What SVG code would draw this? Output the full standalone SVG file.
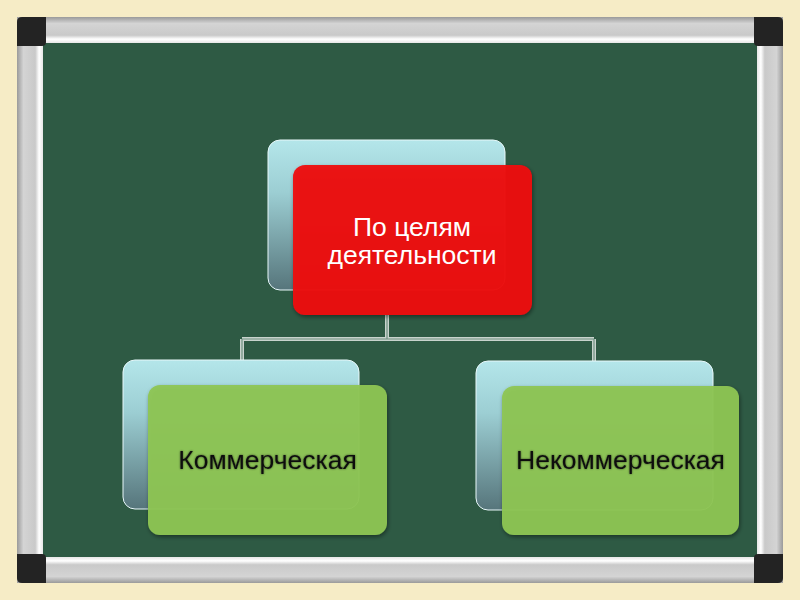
<svg xmlns="http://www.w3.org/2000/svg" width="800" height="600" viewBox="0 0 800 600">
<defs>
  <linearGradient id="blueGrad" x1="0" y1="0" x2="0" y2="1">
    <stop offset="0" stop-color="#b4e6ea"/>
    <stop offset="0.35" stop-color="#9cced3"/>
    <stop offset="1" stop-color="#56757b"/>
  </linearGradient>
  <linearGradient id="barH" x1="0" y1="0" x2="0" y2="1">
    <stop offset="0" stop-color="#9a9a9a"/>
    <stop offset="0.25" stop-color="#d4d4d4"/>
    <stop offset="0.7" stop-color="#c9c9c9"/>
    <stop offset="0.85" stop-color="#ffffff"/>
    <stop offset="1" stop-color="#e6e6e6"/>
  </linearGradient>
  <linearGradient id="barHb" x1="0" y1="1" x2="0" y2="0">
    <stop offset="0" stop-color="#9a9a9a"/>
    <stop offset="0.25" stop-color="#d4d4d4"/>
    <stop offset="0.7" stop-color="#c9c9c9"/>
    <stop offset="0.85" stop-color="#ffffff"/>
    <stop offset="1" stop-color="#e6e6e6"/>
  </linearGradient>
  <linearGradient id="barV" x1="0" y1="0" x2="1" y2="0">
    <stop offset="0" stop-color="#9a9a9a"/>
    <stop offset="0.25" stop-color="#d4d4d4"/>
    <stop offset="0.7" stop-color="#c9c9c9"/>
    <stop offset="0.85" stop-color="#ffffff"/>
    <stop offset="1" stop-color="#e6e6e6"/>
  </linearGradient>
  <linearGradient id="barVr" x1="1" y1="0" x2="0" y2="0">
    <stop offset="0" stop-color="#9a9a9a"/>
    <stop offset="0.25" stop-color="#d4d4d4"/>
    <stop offset="0.7" stop-color="#c9c9c9"/>
    <stop offset="0.85" stop-color="#ffffff"/>
    <stop offset="1" stop-color="#e6e6e6"/>
  </linearGradient>
  <filter id="shadow" x="-10%" y="-10%" width="130%" height="130%">
    <feGaussianBlur in="SourceAlpha" stdDeviation="2"/>
    <feOffset dx="1" dy="2" result="b"/>
    <feComponentTransfer><feFuncA type="linear" slope="0.45"/></feComponentTransfer>
    <feMerge><feMergeNode/><feMergeNode in="SourceGraphic"/></feMerge>
  </filter>
  <filter id="glowDark" x="-5%" y="-20%" width="110%" height="140%">
    <feGaussianBlur in="SourceAlpha" stdDeviation="1"/>
    <feComponentTransfer><feFuncA type="linear" slope="0.6"/></feComponentTransfer>
    <feMerge><feMergeNode/><feMergeNode in="SourceGraphic"/></feMerge>
  </filter>
  <style>
    .back { fill: url(#blueGrad); stroke: #e8f8fa; stroke-width: 1; }
    .red { fill: #ee0a10; fill-opacity: 0.95; filter: url(#shadow); }
    .green { fill: #8ec653; fill-opacity: 0.94; filter: url(#shadow); }
    .tw { font-family: "Liberation Sans", Arial, sans-serif; font-size: 26.5px; fill: #ffffff; text-anchor: middle; }
    .tb { font-family: "Liberation Sans", Arial, sans-serif; font-size: 26.5px; fill: #111111; text-anchor: middle; filter: url(#glowDark); }
    .conn-outer { fill: none; stroke: #c8d3cd; stroke-width: 4; }
    .conn-inner { fill: none; stroke: #6f9080; stroke-width: 1.2; }
    .corner { fill: #232323; }
  </style>
</defs>

<!-- background -->
<rect x="0" y="0" width="800" height="600" fill="#f6ecc6"/>

<!-- board -->
<g id="board">
  <rect x="40" y="40" width="720" height="520" fill="#2e5a44"/>
  <rect x="17" y="17" width="766" height="26" fill="url(#barH)"/>
  <rect x="17" y="557" width="766" height="26" fill="url(#barHb)"/>
  <rect x="17" y="17" width="26" height="566" fill="url(#barV)"/>
  <rect x="757" y="17" width="26" height="566" fill="url(#barVr)"/>
  <path class="corner" d="M22,17 H46 V42 Q46,46 42,46 H17 V22 Q17,17 22,17 Z"/>
  <path class="corner" d="M754,17 H778 Q783,17 783,22 V46 H758 Q754,46 754,42 Z"/>
  <path class="corner" d="M17,554 H42 Q46,554 46,558 V583 H22 Q17,583 17,578 Z"/>
  <path class="corner" d="M758,554 H783 V578 Q783,583 778,583 H754 V558 Q754,554 758,554 Z"/>
</g>

<!-- connectors -->
<g id="connectors">
  <path class="conn-outer" d="M387,315 V339 M242,339 H594 M242,339 V362 M594,339 V362"/>
  <path class="conn-inner" d="M387,315 V339 M242,339 H594 M242,339 V362 M594,339 V362"/>
</g>

<!-- top node -->
<g id="node-top">
  <rect class="back" x="268" y="140" width="237" height="150" rx="12"/>
  <rect class="red" x="293" y="165" width="239" height="150" rx="12"/>
  <text class="tw" x="412" y="236">По целям</text>
  <text class="tw" x="412" y="264">деятельности</text>
</g>

<!-- left node -->
<g id="node-left">
  <rect class="back" x="123" y="360" width="236" height="149" rx="12"/>
  <rect class="green" x="148" y="385" width="239" height="150" rx="12"/>
  <text class="tb" x="267.5" y="469">Коммерческая</text>
</g>

<!-- right node -->
<g id="node-right">
  <rect class="back" x="476" y="361" width="237" height="149" rx="12"/>
  <rect class="green" x="502" y="386" width="237" height="149" rx="12"/>
  <text class="tb" x="620.5" y="469">Некоммерческая</text>
</g>
</svg>
